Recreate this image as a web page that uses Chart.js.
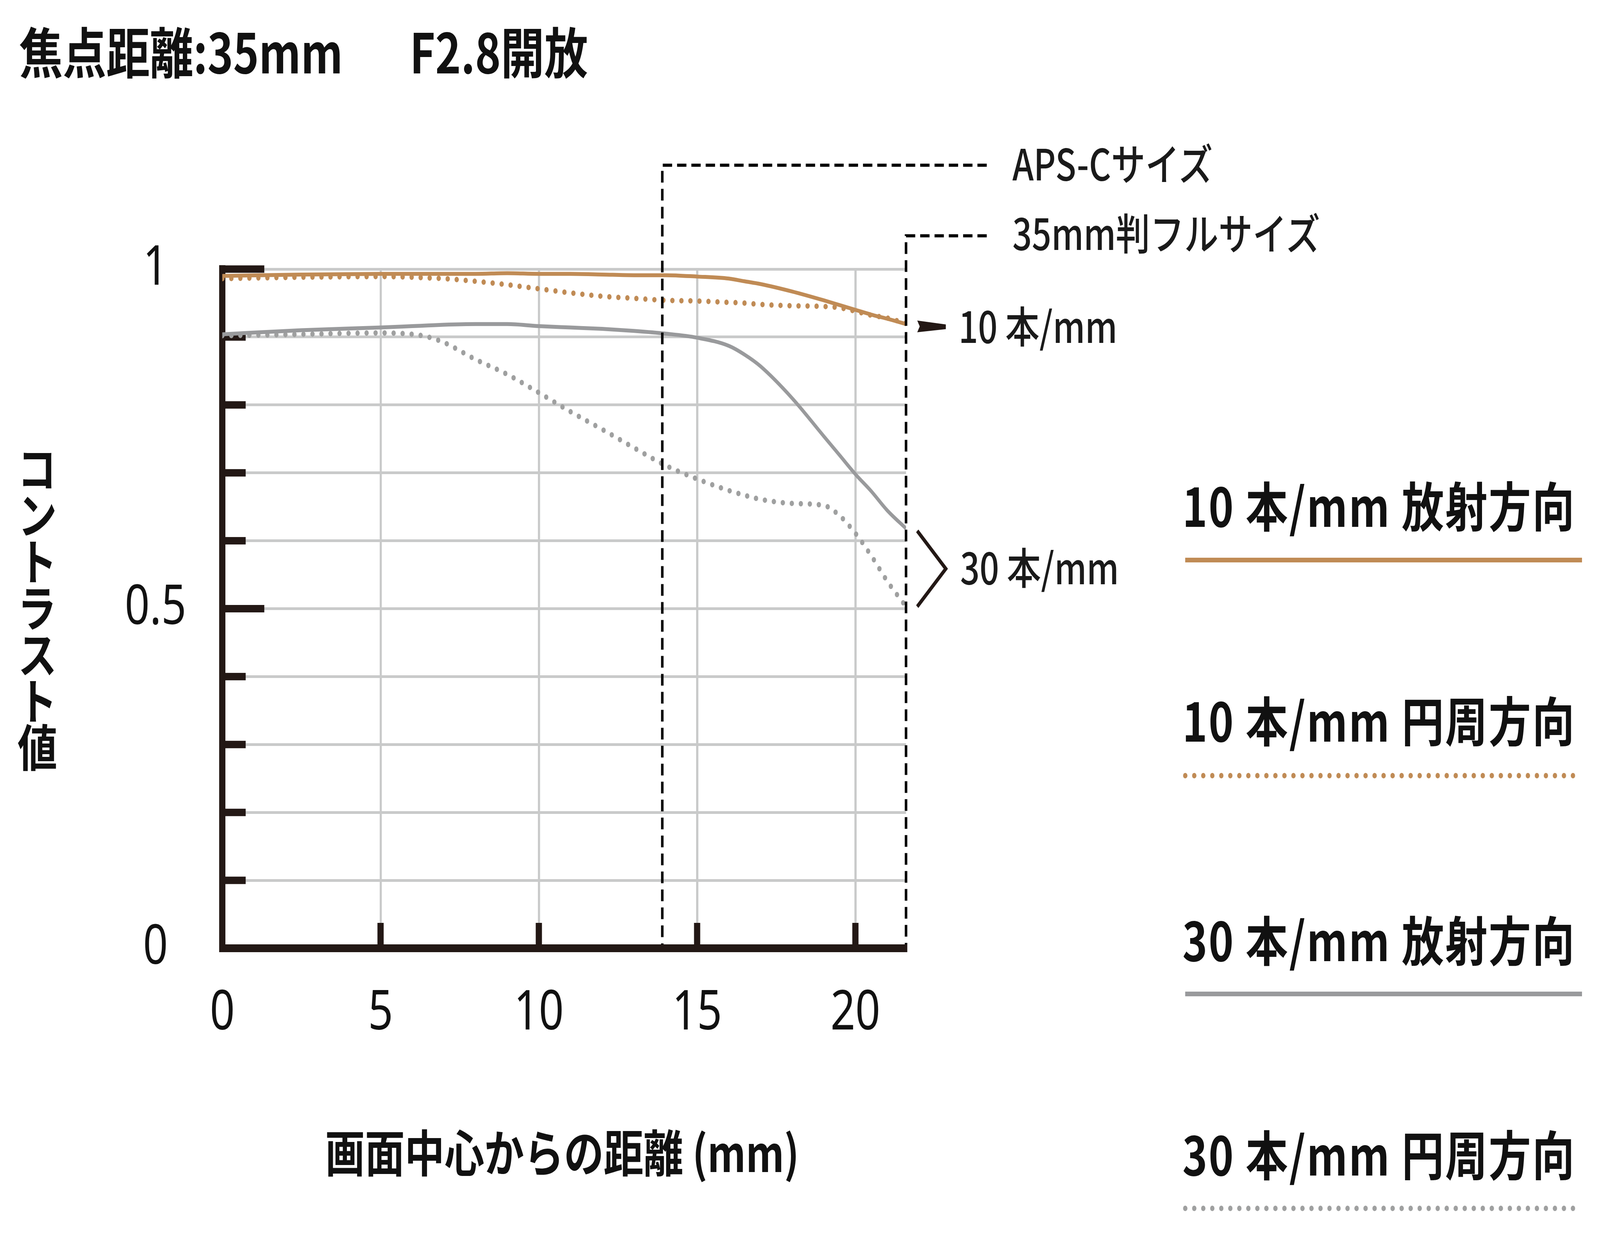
<!DOCTYPE html>
<html lang="ja">
<head>
<meta charset="utf-8">
<title>MTF 焦点距離 35mm F2.8開放</title>
<script src="https://cdn.jsdelivr.net/npm/chart.js@4.4.1/dist/chart.umd.min.js"></script>
<style>
  html, body { margin: 0; padding: 0; background: #fff; overflow: hidden; }
  #page { position: relative; width: 100vw; height: 100vh; overflow: hidden; background: #fff; }
  #wrap { position: absolute; left: 0; top: 0; width: 5146px; height: 3175px; overflow: hidden; background: #fff; transform-origin: 0 0; }
  #mtf { position: absolute; left: 0; top: 0; }
  .t {
    position: absolute; line-height: 1; white-space: nowrap; color: #111;
    font-family: 'Noto Sans CJK JP', 'Noto Sans', sans-serif;
    transform: translateY(-50%);
  }
  .title { font-size: 140px; font-weight: 700; }
  .note { font-size: 110px; font-weight: 500; color: #1a1a1a; }
  .leg { font-size: 136px; font-weight: 700; letter-spacing: 4px; right: 78px; }
  .ytitle {
    font-size: 128px; font-weight: 700; letter-spacing: -9px;
    writing-mode: vertical-rl; text-orientation: upright;
    transform: translate(-50%, -50%);
  }
  .xtitle { font-size: 128px; font-weight: 700; transform: translate(-50%, -50%); }
</style>
</head>
<body>
<div id="page">
<div id="wrap">
  <canvas id="mtf" style="width:5146px; height:3175px;"></canvas>

  <div class="t title" style="left:62px; top:127px;">焦点距離:35mm</div>
  <div class="t title" style="left:1318px; top:127px;">F2.8開放</div>

  <div class="t note" style="left:3256px; top:414px;">APS-Cサイズ</div>
  <div class="t note" style="left:3256px; top:592px;">35mm判フルサイズ</div>
  <div class="t note" style="left:3083px; top:830px;">10 本/mm</div>
  <div class="t note" style="left:3088px; top:1448px;">30 本/mm</div>

  <div class="t leg" style="top:1290px;">10 本/mm 放射方向</div>
  <div class="t leg" style="top:1840px;">10 本/mm 円周方向</div>
  <div class="t leg" style="top:2402px;">30 本/mm 放射方向</div>
  <div class="t leg" style="top:2951px;">30 本/mm 円周方向</div>

  <div class="t ytitle" style="left:120px; top:1553px;">コントラスト値</div>
  <div class="t xtitle" style="left:1808px; top:2946px;">画面中心からの距離 (mm)</div>
</div>
</div>

<script>
// 画面中心からの距離 (mm)
const DIST_MM = [0, 2.5, 5, 6, 6.5, 7, 8, 9, 10, 11, 12, 13, 14, 15, 16, 16.5, 17, 18, 19, 19.5, 20, 20.5, 21, 21.6];

// コントラスト値
const MTF10_RADIAL = [0.990, 0.992, 0.993, 0.993, 0.993, 0.993, 0.993, 0.994, 0.993, 0.993, 0.992, 0.991,
                      0.991, 0.989, 0.986, 0.982, 0.978, 0.967, 0.954, 0.947, 0.940, 0.933, 0.927, 0.919];
const MTF10_SAGITTAL = [0.986, 0.988, 0.989, 0.988, 0.987, 0.986, 0.982, 0.977, 0.971, 0.965, 0.960, 0.957,
                        0.954, 0.953, 0.951, 0.950, 0.948, 0.946, 0.945, 0.943, 0.938, 0.932, 0.928, 0.920];
const MTF30_RADIAL = [0.904, 0.910, 0.914, 0.916, 0.917, 0.918, 0.919, 0.919, 0.916, 0.914, 0.912, 0.909,
                      0.905, 0.899, 0.887, 0.874, 0.857, 0.810, 0.754, 0.726, 0.698, 0.673, 0.645, 0.618];
const MTF30_SAGITTAL = [0.902, 0.904, 0.906, 0.904, 0.900, 0.892, 0.867, 0.845, 0.818, 0.790, 0.764, 0.737,
                        0.711, 0.691, 0.674, 0.667, 0.661, 0.655, 0.652, 0.637, 0.611, 0.578, 0.541, 0.503];

const SERIES_LABELS = ['10 本/mm 放射方向', '10 本/mm 円周方向', '30 本/mm 放射方向', '30 本/mm 円周方向'];

// 目盛り
const X_TICKS = [0, 5, 10, 15, 20];
const Y_TICKS = [0, 0.1, 0.2, 0.3, 0.4, 0.5, 0.6, 0.7, 0.8, 0.9, 1];
const Y_LABEL_VALUES = [0, 0.5, 1];
const Y_LABEL_TEXT = ['0', '0.5', '1'];

// イメージサークル (mm) と枠の上端 (コントラスト値換算)
const APS_C_MM = 13.9;
const FULL_MM = 21.6;
const GUIDE_TOP = [1.153, 1.049];
const GUIDE_END_MM = 24.15;

const COLORS = {
    orange: '#c08b55',
    gray: '#999a9c',
    grayDot: '#9fa0a0',
    dark: '#231815',
    grid: '#c9caca'
};

function toPoints(ys) {
    return DIST_MM.map((x, i) => ({ x: x, y: ys[i] }));
}

const DOTS = [0, 29];

// 軸の目盛り線・イメージサークル枠・凡例線
const mtfMarks = {
    id: 'mtfMarks',
    beforeDatasetsDraw(chart) {
        const { ctx, chartArea, scales: { x, y } } = chart;
        ctx.save();
        ctx.fillStyle = COLORS.dark;
        Y_TICKS.forEach(v => {
            if (v === 0) return;
            const py = y.getPixelForValue(v);
            const major = Y_LABEL_VALUES.some(m => Math.abs(m - v) < 1e-9);
            ctx.fillRect(chartArea.left - 8, py - 9.5, major ? 143 : 83, 19);
        });
        X_TICKS.forEach(v => {
            if (v === 0) return;
            const px = x.getPixelForValue(v);
            ctx.fillRect(px - 10, chartArea.bottom - 65, 20, 70);
        });
        ctx.restore();
    },
    afterDatasetsDraw(chart) {
        const { ctx, chartArea, scales: { x, y } } = chart;
        ctx.save();

        // APS-C / フルサイズ枠
        ctx.strokeStyle = '#000';
        ctx.lineWidth = 8;
        ctx.setLineDash([30, 16]);
        [APS_C_MM, FULL_MM].forEach((mm, i) => {
            const px = x.getPixelForValue(mm);
            const top = y.getPixelForValue(GUIDE_TOP[i]);
            ctx.beginPath();
            ctx.moveTo(x.getPixelForValue(GUIDE_END_MM), top);
            ctx.lineTo(px, top);
            ctx.lineTo(px, chartArea.bottom - 10);
            ctx.stroke();
        });
        ctx.setLineDash([]);

        // 10本/mm の矢印
        const last = DIST_MM.length - 1;
        const m0 = chart.getDatasetMeta(0).data[last];
        const ax = m0.x, ay = m0.y + 6;
        ctx.fillStyle = COLORS.dark;
        ctx.beginPath();
        ctx.moveTo(ax + 36, ay - 15);
        ctx.lineTo(ax + 128, ay - 5);
        ctx.lineTo(ax + 128, ay + 7);
        ctx.lineTo(ax + 36, ay + 15);
        ctx.lineTo(ax + 44, ay);
        ctx.closePath();
        ctx.fill();

        // 30本/mm の括弧
        const r = chart.getDatasetMeta(2).data[last];
        const s = chart.getDatasetMeta(3).data[last];
        ctx.strokeStyle = COLORS.dark;
        ctx.lineWidth = 10;
        ctx.lineJoin = 'miter';
        ctx.beginPath();
        ctx.moveTo(r.x + 36, r.y + 6);
        ctx.lineTo(r.x + 128, (r.y + s.y) / 2 + 3);
        ctx.lineTo(s.x + 36, s.y);
        ctx.stroke();

        // 凡例線
        const legendY = [1434, 1986, 2545, 3094];
        chart.data.datasets.forEach((ds, i) => {
            ctx.strokeStyle = ds.borderColor;
            ctx.lineWidth = ds.borderDash ? ds.borderWidth : 12;
            ctx.lineCap = ds.borderCapStyle || 'butt';
            ctx.setLineDash(ds.borderDash || []);
            ctx.beginPath();
            ctx.moveTo(3812, legendY[i]);
            ctx.lineTo(5088, legendY[i]);
            ctx.stroke();
        });
        ctx.restore();
    }
};

function makeDataset(label, ys, color, dotted) {
    const ds = {
        label: label,
        data: toPoints(ys),
        borderColor: color,
        borderWidth: dotted ? 14 : 10,
        pointRadius: 0,
        cubicInterpolationMode: 'monotone',
        borderJoinStyle: 'round',
        fill: false
    };
    if (dotted) {
        ds.borderDash = DOTS;
        ds.borderCapStyle = 'round';
    }
    return ds;
}

// ウィンドウの大きさに合わせて 5146x3175 の図面を縮尺
function fitPage() {
    const sx = window.innerWidth / 5146;
    const sy = window.innerHeight / 3175;
    document.getElementById('wrap').style.transform = 'scale(' + sx + ',' + sy + ')';
    return Math.max(sx, sy);
}

document.addEventListener('DOMContentLoaded', function() {
    const s = fitPage();
    const canvas = document.getElementById('mtf');
    new Chart(canvas, {
        type: 'line',
        data: {
            datasets: [
                makeDataset(SERIES_LABELS[0], MTF10_RADIAL, COLORS.orange, false),
                makeDataset(SERIES_LABELS[1], MTF10_SAGITTAL, COLORS.orange, true),
                makeDataset(SERIES_LABELS[2], MTF30_RADIAL, COLORS.gray, false),
                makeDataset(SERIES_LABELS[3], MTF30_SAGITTAL, COLORS.grayDot, true)
            ]
        },
        options: {
            responsive: false,
            devicePixelRatio: (window.devicePixelRatio || 1) * s,
            animation: false,
            layout: { padding: { left: 0, top: 689, right: 2232, bottom: 447 } },
            plugins: {
                legend: { display: false },
                tooltip: { enabled: false },
                title: { display: false }
            },
            scales: {
                x: {
                    type: 'linear',
                    min: 0,
                    max: FULL_MM,
                    afterBuildTicks: sc => { sc.ticks = X_TICKS.map(v => ({ value: v })); },
                    afterFit: sc => { sc.height = 300; },
                    grid: { color: COLORS.grid, lineWidth: 7, drawTicks: false },
                    border: { color: COLORS.dark, width: 20 },
                    ticks: {
                        autoSkip: false,
                        maxRotation: 0,
                        padding: 84,
                        color: '#111',
                        font: { family: "'Liberation Sans Narrow', 'Noto Sans', sans-serif", size: 140 }
                    }
                },
                y: {
                    type: 'linear',
                    min: 0,
                    max: 1,
                    afterBuildTicks: sc => { sc.ticks = Y_TICKS.map(v => ({ value: v })); },
                    afterFit: sc => { sc.width = 715; },
                    grid: { color: COLORS.grid, lineWidth: 7, drawTicks: false },
                    border: { color: COLORS.dark, width: 20 },
                    ticks: {
                        autoSkip: false,
                        crossAlign: 'center',
                        padding: 116,
                        color: '#111',
                        font: { family: "'Noto Sans', sans-serif", size: 140 },
                        callback: function(value) {
                            const i = Y_LABEL_VALUES.findIndex(v => Math.abs(v - value) < 1e-9);
                            return i >= 0 ? Y_LABEL_TEXT[i] : '';
                        }
                    }
                }
            }
        },
        plugins: [mtfMarks]
    });
});
</script>
</body>
</html>
